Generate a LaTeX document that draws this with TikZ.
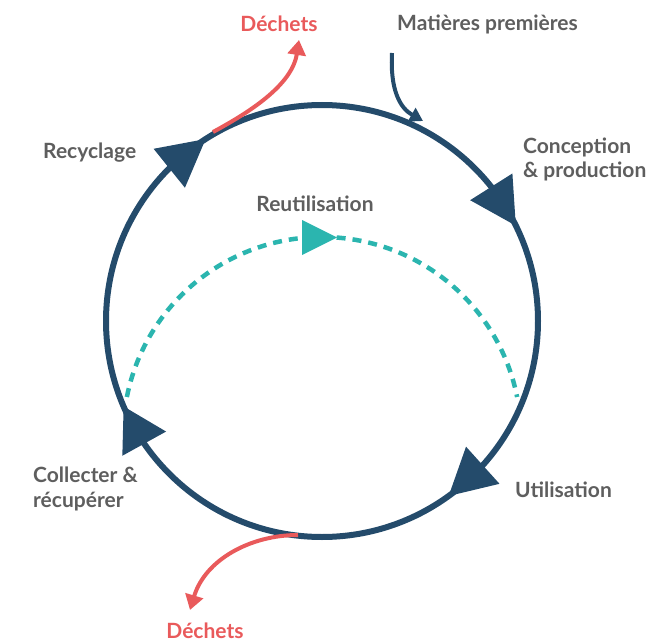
\documentclass[tikz,border=0pt]{standalone}
\usepackage{fontspec}
\setmainfont{Lato}
\usetikzlibrary{calc,arrows.meta}
\definecolor{navy}{HTML}{244B6B}
\definecolor{coral}{HTML}{E95A5B}
\definecolor{tealc}{HTML}{2BB5AF}
\definecolor{txt}{HTML}{5E5E5E}
\begin{document}
\begin{tikzpicture}[x=1pt,y=-1pt,
  lbl/.style={font=\fontsize{21}{25}\selectfont\bfseries, text=txt, inner sep=0pt},
  ring/.style={draw=navy, line width=6pt},
  headfill/.style={fill=navy},
  waste/.style={draw=coral, line width=4pt, -{Triangle[length=15pt,width=18pt]}},
  feed/.style={draw=navy, line width=4pt, -{Triangle[length=13pt,width=15pt]}},
  reuse/.style={draw=tealc, line width=4.5pt, dash pattern=on 9pt off 7pt}]
\useasboundingbox (0,0) rectangle (651,642);
\coordinate (C) at (322,321);
\draw[ring] (C) circle (216pt);
% arrowheads on the ring
\foreach \tip/\base [count=\i] in {-122.6/-135, -26.2/-38.4, 54.1/41.9, 156.7/145.4} {
  \coordinate (T\i) at ($(C)+(\tip:216)$);
  \coordinate (B\i) at ($(C)+(\base:216)$);
  \fill[headfill] (T\i) -- ($(B\i)!25pt!90:(T\i)$) -- ($(B\i)!25pt!-90:(T\i)$) -- cycle;
}
% reuse dashed arc
\coordinate (D) at (322,436);
\coordinate (rs) at ($(D)+(-168.7:199)$);
\draw[reuse] (rs) arc[start angle=-168.7, end angle=-11.3, radius=199];
\coordinate (rt) at (337,237.5);
\fill[tealc] (302,220) -- (rt) -- (302,255) -- cycle;
% waste arrows
\coordinate (w1s) at (213,132);
\coordinate (w1e) at (299,40);
\draw[waste] (w1s) .. controls (250,112) and (292,85) .. (w1e);
\coordinate (w2s) at (298,535);
\coordinate (w2e) at (190,610);
\draw[waste] (w2s) .. controls (250,535) and (205,560) .. (w2e);
% raw material
\coordinate (ms) at (392,53);
\coordinate (me) at (423,121);
\draw[feed] (ms) .. controls (390,90) and (400,108) .. (me);
% labels
\node[lbl, text=coral, anchor=base] (d1) at (279,32) {Déchets};
\node[lbl, anchor=base west] (mp) at (397,31) {Matières premières};
\node[lbl, anchor=base west] (cp1) at (523,153) {Conception};
\node[lbl, anchor=base west] (cp2) at (523,177) {\& production};
\node[lbl, anchor=base west] (rec) at (43,158) {Recyclage};
\node[lbl, anchor=base] (reu) at (315,211) {Reutilisation};
\node[lbl, anchor=base west] (uti) at (515,497) {Utilisation};
\node[lbl, anchor=base west] (col1) at (33,482) {Collecter \&};
\node[lbl, anchor=base west] (col2) at (33,507) {récupérer};
\node[lbl, text=coral, anchor=base] (d2) at (205,638) {Déchets};
\end{tikzpicture}
\end{document}
